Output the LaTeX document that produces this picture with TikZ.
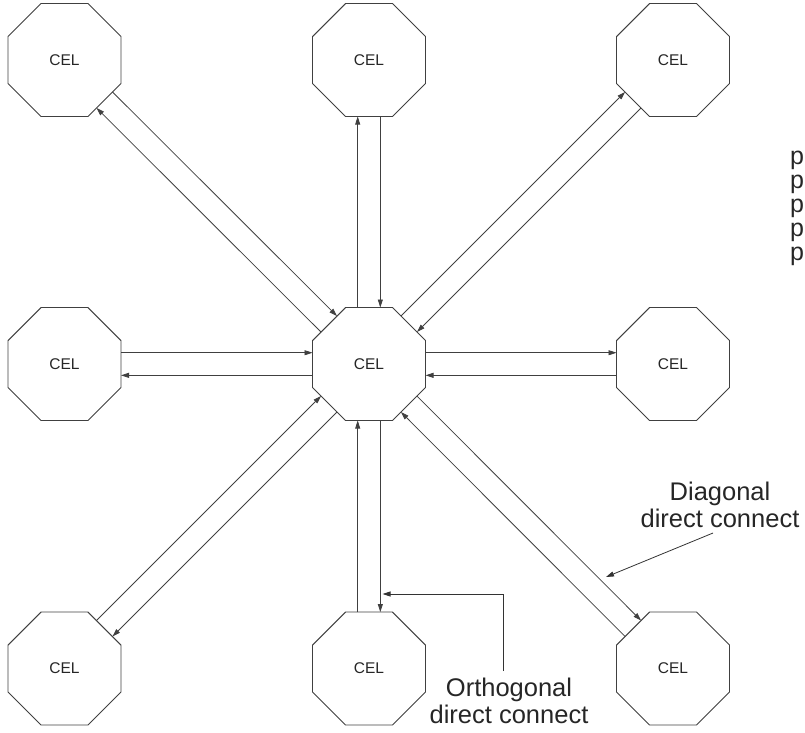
\documentclass[tikz,border=0pt]{standalone}
\usepackage{fontspec}
\setmainfont{Liberation Sans}
\usetikzlibrary{shapes.geometric,arrows.meta,calc}
\def\apoth{56.5pt}
\def\lnkoff{11.3pt}
\newcommand\linkpair[2]{%
  \draw[conn] ($(#2)!\apoth!(#1)!\lnkoff!90:(#1)$) -- ($(#1)!\apoth!(#2)!\lnkoff!270:(#2)$);
  \draw[conn] ($(#1)!\apoth!(#2)!\lnkoff!90:(#2)$) -- ($(#2)!\apoth!(#1)!\lnkoff!270:(#1)$);
}
\begin{document}
\begin{tikzpicture}[x=1pt,y=1pt,
  cel/.style={regular polygon, regular polygon sides=8, minimum size=122.3pt,
    inner sep=0pt, outer sep=0pt, draw=black!75, line width=0.9pt,
    font=\fontsize{15.5}{18}\selectfont, text=black!85},
  conn/.style={draw=black!75, line width=0.8pt, -{Triangle[length=8pt,width=5pt]}},
  ptr/.style={draw=black!80, line width=0.8pt, -{Triangle[length=8pt,width=5pt]}},
  lbl/.style={font=\fontsize{25.5}{26.5}\selectfont, text=black!85, inner sep=0pt, anchor=base},
  pch/.style={font=\fontsize{25}{24}\selectfont, text=black!85, inner sep=0pt, anchor=base west}
  ]
\useasboundingbox (0,0) rectangle (805,-732);
\node[cel] (tl) at (64.5,-60) {CEL};
\node[cel] (tc) at (369,-60) {CEL};
\node[cel] (tr) at (673,-60) {CEL};
\node[cel] (ml) at (64.5,-364) {CEL};
\node[cel] (c)  at (369,-364) {CEL};
\node[cel] (mr) at (673,-364) {CEL};
\node[cel] (bl) at (64.5,-668.5) {CEL};
\node[cel] (bc) at (369,-668.5) {CEL};
\node[cel] (br) at (673,-668.5) {CEL};

\linkpair{c}{tl}
\linkpair{c}{tc}
\linkpair{c}{tr}
\linkpair{c}{ml}
\linkpair{c}{mr}
\linkpair{c}{bl}
\linkpair{c}{bc}
\linkpair{c}{br}

\node[lbl] (orth) at (509,-696.5) {\vtop{\halign{\hfil#\hfil\cr Orthogonal\cr direct connect\cr}}};
\node[lbl] (diag) at (720,-500.5) {\vtop{\halign{\hfil#\hfil\cr Diagonal\cr direct connect\cr}}};

\coordinate (os) at (503.5,-671);
\coordinate (ot) at (503.5,-594);
\coordinate (oe) at (382.5,-594);
\draw[ptr] (os) -- (ot) -- (oe);

\coordinate (ds) at (713,-533);
\coordinate (de) at (606,-577);
\draw[ptr] (ds) -- (de);

\node[pch] (p1) at (790,-164.5) {p};
\node[pch] (p2) at (790,-188.5) {p};
\node[pch] (p3) at (790,-212.5) {p};
\node[pch] (p4) at (790,-236.5) {p};
\node[pch] (p5) at (790,-260.5) {p};
\end{tikzpicture}
\end{document}
